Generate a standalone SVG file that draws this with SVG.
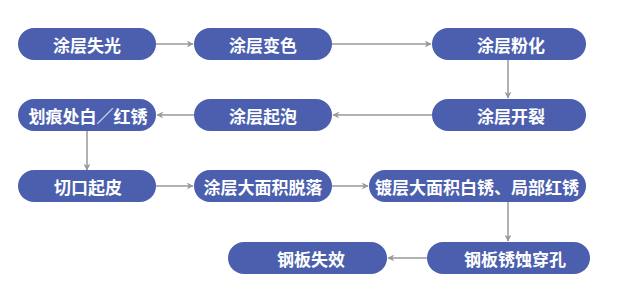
<svg xmlns="http://www.w3.org/2000/svg" width="617" height="294" viewBox="0 0 617 294">
<style>
.n rect{fill:#4B5FAE;}
.n text{fill:#fff;font-family:"Noto Sans CJK SC","Noto Sans",sans-serif;font-size:17px;font-weight:bold;text-anchor:middle;dominant-baseline:central;}
.c line{stroke:#999;stroke-width:1.5;fill:none;marker-end:url(#a);}
</style>
<defs>
<marker id="a" viewBox="0 0 10 10" refX="9" refY="5" markerWidth="7" markerHeight="7" markerUnits="userSpaceOnUse" orient="auto">
<path d="M0,0 L10,5 L0,10 L3,5 Z" fill="#999"/>
</marker>
</defs>
<rect width="617" height="294" fill="#fff"/>
<g class="c">
<line x1="156" y1="44" x2="193" y2="44"/>
<line x1="332" y1="44" x2="431" y2="44"/>
<line x1="508" y1="60" x2="508" y2="98"/>
<line x1="432" y1="115" x2="333" y2="115"/>
<line x1="194" y1="115" x2="157" y2="115"/>
<line x1="87" y1="131" x2="87" y2="170"/>
<line x1="156" y1="186" x2="193" y2="186"/>
<line x1="332" y1="186" x2="368" y2="186"/>
<line x1="508" y1="202" x2="508" y2="241"/>
<line x1="427" y1="258" x2="388" y2="258"/>
</g>
<g id="n1" class="n"><rect x="18" y="28" width="138" height="32" rx="16"/><text x="87" y="44">涂层失光</text></g>
<g id="n2" class="n"><rect x="194" y="28" width="138" height="32" rx="16"/><text x="263" y="44">涂层变色</text></g>
<g id="n3" class="n"><rect x="432" y="28" width="154" height="32" rx="16"/><text x="511" y="44">涂层粉化</text></g>
<g id="n4" class="n"><rect x="18" y="99" width="138" height="32" rx="16"/><text x="88" y="115">划痕处白／红锈</text></g>
<g id="n5" class="n"><rect x="194" y="99" width="138" height="32" rx="16"/><text x="263" y="115">涂层起泡</text></g>
<g id="n6" class="n"><rect x="432" y="99" width="154" height="32" rx="16"/><text x="511" y="115">涂层开裂</text></g>
<g id="n7" class="n"><rect x="18" y="170" width="138" height="32" rx="16"/><text x="88" y="186">切口起皮</text></g>
<g id="n8" class="n"><rect x="194" y="170" width="138" height="32" rx="16"/><text x="263" y="186">涂层大面积脱落</text></g>
<g id="n9" class="n"><rect x="369" y="170" width="217" height="32" rx="16"/><text x="477" y="186">镀层大面积白锈、局部红锈</text></g>
<g id="n10" class="n"><rect x="228" y="242" width="159" height="32" rx="16"/><text x="311" y="258">钢板失效</text></g>
<g id="n11" class="n"><rect x="427" y="242" width="163" height="32" rx="16"/><text x="515" y="258">钢板锈蚀穿孔</text></g>
</svg>
